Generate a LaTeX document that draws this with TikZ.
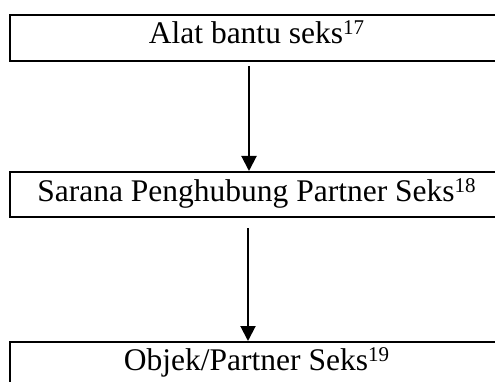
\documentclass[tikz,border=0pt]{standalone}
\usepackage{fontspec}
\setmainfont{Liberation Serif}
\usetikzlibrary{arrows.meta}
% raised footnote number after a stage title
\newcommand{\supnum}[1]{\raisebox{9pt}{\fontsize{21}{21}\selectfont #1}}
\begin{document}
\begin{tikzpicture}[x=1pt,y=-1pt,
  stage/.style={draw, line width=2pt, minimum width=493pt, minimum height=46pt,
    inner sep=0pt, anchor=north west, font=\fontsize{31.5}{36}\selectfont},
  flow/.style={line width=2pt, -{Triangle[width=15pt,length=15pt]}}]
\useasboundingbox (0,0) rectangle (495,382);
\clip (0,0) rectangle (495,382);
\node[stage, text height=22pt, text depth=10pt] (tool) at (9,14) {Alat bantu seks\supnum{17}};
\node[stage, minimum height=45pt, text height=22pt, text depth=9pt] (link) at (9,171) {Sarana Penghubung Partner Seks\supnum{18}};
\node[stage, text height=22pt, text depth=12pt] (object) at (9,341) {Objek/Partner Seks\supnum{19}};
\draw[flow] ([xshift=-7.5pt,yshift=-4pt]tool.south) -- ([xshift=-7.5pt]link.north);
\draw[flow] ([xshift=-8.5pt,yshift=-10pt]link.south) -- ([xshift=-8.5pt]object.north);
\end{tikzpicture}
\end{document}
